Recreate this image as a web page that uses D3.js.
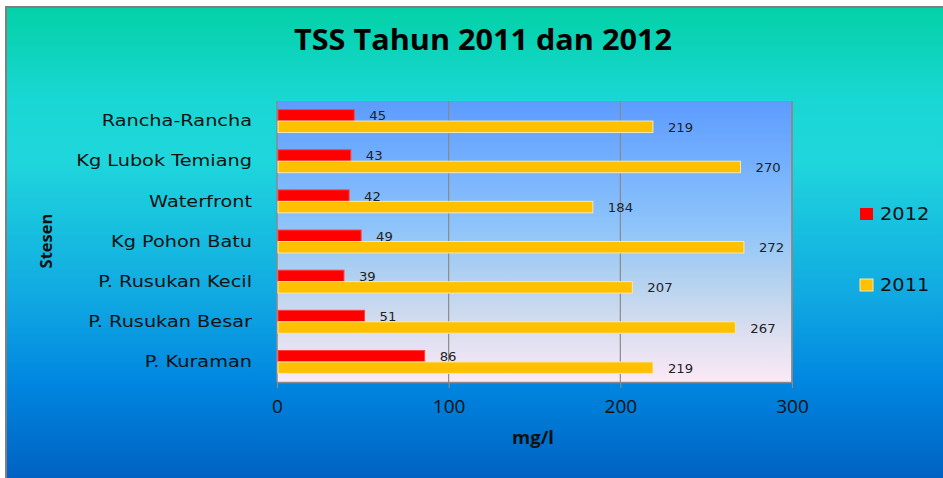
<!DOCTYPE html>
<html>
<head>
<meta charset="utf-8">
<script src="https://cdn.jsdelivr.net/npm/d3@7"></script>
<style>
html,body{margin:0;padding:0;background:#fff;}
svg{display:block;}
</style>
</head>
<body>
<script>
const categories = ["Rancha-Rancha","Kg Lubok Temiang","Waterfront","Kg Pohon Batu","P. Rusukan Kecil","P. Rusukan Besar","P. Kuraman"];
const series = ["2012","2011"];
const values2012 = [45,43,42,49,39,51,86];
const values2011 = [219,270,184,272,207,267,219];
const xTicks = [0,100,200,300];
const colors = {"2012":"#ff0000","2011":"#ffc000"};

const W = 943, H = 478;
const svg = d3.select("body").append("svg").attr("width", W).attr("height", H);
const defs = svg.append("defs");

const bg = defs.append("linearGradient").attr("id","bg").attr("x1",0).attr("y1",0).attr("x2",0).attr("y2",1);
[[0,"#03d1a6"],[0.2,"#19d7d4"],[0.33,"#1fd6dc"],[0.62,"#10a8e2"],[0.8,"#0086e0"],[1,"#0062c2"]]
  .forEach(([o,c])=>bg.append("stop").attr("offset",o).attr("stop-color",c));

const pg = defs.append("linearGradient").attr("id","pg").attr("x1",0).attr("y1",0).attr("x2",0).attr("y2",1);
[[0,"#5c9cff"],[0.45,"#8ec4fa"],[0.62,"#b0d0f0"],[0.78,"#d2dcee"],[0.92,"#ede4f4"],[1,"#fbe9f6"]]
  .forEach(([o,c])=>pg.append("stop").attr("offset",o).attr("stop-color",c));

// outer frame
svg.append("rect").attr("x",5).attr("y",6).attr("width",W-5).attr("height",H-6)
  .attr("fill","url(#bg)");
svg.append("path").attr("d",`M6,${H} L6,7 L${W},7`).attr("fill","none").attr("stroke","#7f7f7f").attr("stroke-width",2);

const m = {left:277, right:792, top:101, bottom:382};
const x = d3.scaleLinear().domain([0,300]).range([m.left, m.right]);
const y = d3.scaleBand().domain(categories).range([m.top, m.bottom]).padding(0);
const y1 = d3.scaleBand().domain(series).range([0, y.bandwidth()]).paddingInner(0).paddingOuter(0.75);

// plot area
svg.append("rect").attr("x",m.left).attr("y",m.top).attr("width",m.right-m.left).attr("height",m.bottom-m.top)
  .attr("fill","url(#pg)");

// gridlines
svg.append("g").selectAll("line").data(xTicks.slice(1)).join("line")
  .attr("x1",d=>x(d)).attr("x2",d=>x(d)).attr("y1",m.top).attr("y2",m.bottom)
  .attr("stroke","#8a8a8a").attr("stroke-width",1.2);

// x axis
const xAxis = d3.axisBottom(x).tickValues(xTicks).tickSize(6).tickPadding(12).tickSizeOuter(0);
const gx = svg.append("g").attr("transform",`translate(0,${m.bottom})`).call(xAxis);
gx.select(".domain").attr("stroke","#8a8a8a").attr("stroke-width",1.5);
gx.selectAll(".tick line").attr("stroke","#8a8a8a").attr("stroke-width",1.2);
gx.selectAll(".tick text").attr("font-family","'Open Sans', sans-serif")
  .attr("font-size",19).attr("fill","#111");

// y axis
const sy = 1.17;
const yAxis = d3.axisLeft(y).tickSize(0).tickPadding(25);
const gy = svg.append("g").attr("transform",`translate(${m.left},0)`).call(yAxis);
gy.select(".domain").remove();
gy.append("line").attr("x1",0).attr("x2",0).attr("y1",m.top).attr("y2",m.bottom).attr("stroke","#8a8a8a").attr("stroke-width",1.5);
gy.selectAll(".tick text").attr("font-family","'DejaVu Sans', Verdana, sans-serif")
  .attr("font-size",16.5).attr("fill","#111")
  .attr("x",-25/sy).attr("transform",`scale(${sy},1)`);

// right border of plot area
svg.append("line").attr("x1",m.right).attr("x2",m.right).attr("y1",m.top).attr("y2",m.bottom)
  .attr("stroke","#8a8a8a").attr("stroke-width",1.5);

const data = categories.map((c,i)=>({cat:c, vals:[{s:"2012",v:values2012[i]},{s:"2011",v:values2011[i]}]}));

const groups = svg.append("g").selectAll("g").data(data).join("g")
  .attr("transform",d=>`translate(0,${y(d.cat)})`);

groups.selectAll("rect").data(d=>d.vals).join("rect")
  .attr("x",x(0)+1).attr("y",d=>y1(d.s))
  .attr("width",d=>x(d.v)-x(0)-1).attr("height",y1.bandwidth())
  .attr("fill",d=>colors[d.s])
  .attr("stroke",d=>d.s==="2011"?"#f7e7b0":"#ff4040").attr("stroke-width",1);

const sl = 1.15;
groups.selectAll("text").data(d=>d.vals).join("text")
  .attr("transform",`scale(${sl},1)`)
  .attr("x",d=>(x(d.v)+15)/sl).attr("y",d=>y1(d.s)+y1.bandwidth()/2+1)
  .attr("dy","0.35em")
  .attr("font-family","'DejaVu Sans', Verdana, sans-serif").attr("font-size",11.5)
  .attr("fill","#222").text(d=>d.v);

// title
const st = 1.075;
svg.append("text").attr("transform",`scale(${st},1)`).attr("x",483/st).attr("y",50).attr("text-anchor","middle")
  .attr("font-family","'Open Sans', sans-serif").attr("font-weight","bold").attr("font-size",28.5)
  .attr("fill","#000").text("TSS Tahun 2011 dan 2012");

// axis titles
svg.append("text").attr("x",533).attr("y",444).attr("text-anchor","middle")
  .attr("font-family","'Open Sans', sans-serif").attr("font-weight","bold").attr("font-size",18.5)
  .attr("fill","#111").text("mg/l");
svg.append("text").attr("transform","translate(52,241) rotate(-90)").attr("text-anchor","middle")
  .attr("font-family","'Open Sans', sans-serif").attr("font-weight","bold").attr("font-size",16.5)
  .attr("fill","#111").text("Stesen");

// legend
const legendY = {"2012":214, "2011":285};
const sg = 1.14;
const lg = svg.append("g").selectAll("g").data(series).join("g")
  .attr("transform",d=>`translate(860,${legendY[d]})`);
lg.append("rect").attr("x",0).attr("y",-6).attr("width",13).attr("height",12)
  .attr("fill",d=>colors[d]).attr("stroke",d=>d==="2011"?"#f7e7b0":"none");
lg.append("text").attr("transform",`scale(${sg},1)`).attr("x",20/sg).attr("y",0).attr("dy","0.36em")
  .attr("font-family","'DejaVu Sans', Verdana, sans-serif").attr("font-size",17)
  .attr("fill","#111").text(d=>d);
</script>
</body>
</html>
